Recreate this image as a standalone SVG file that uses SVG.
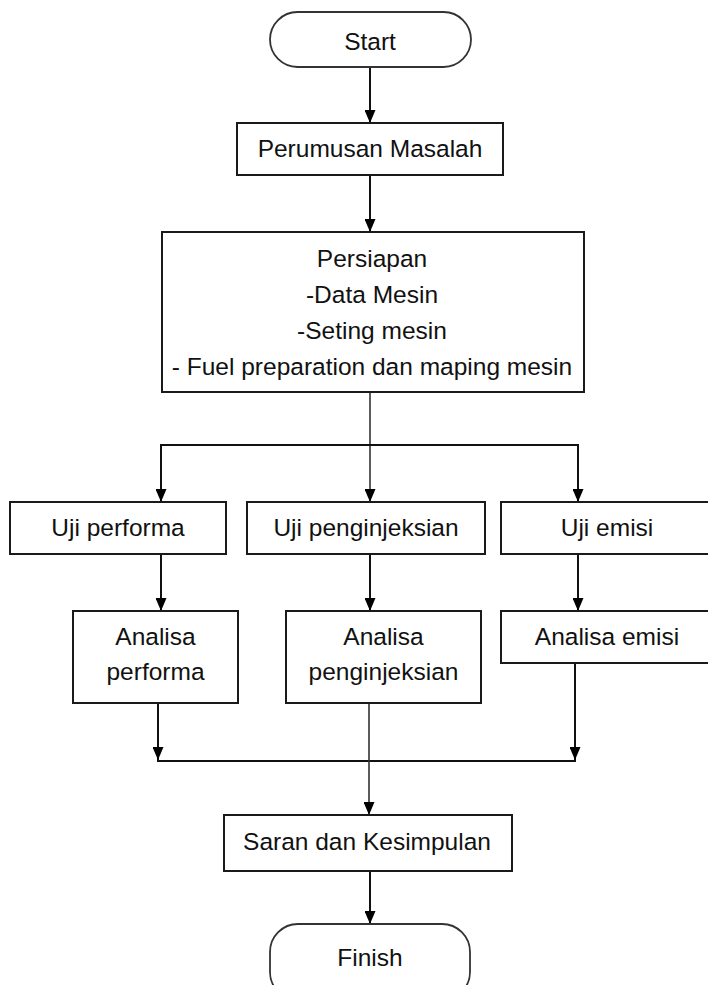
<svg xmlns="http://www.w3.org/2000/svg" width="708" height="985" viewBox="0 0 708 985">
  <style>
    .box { fill: #ffffff; stroke: #1a1a1a; stroke-width: 2; }
    .term { fill: #ffffff; stroke: #333333; stroke-width: 1.8; }
    .lbl { font-family: "Liberation Sans", Arial, sans-serif; font-size: 24.5px; fill: #111111; text-anchor: middle; }
    .edge { fill: none; stroke: #111111; stroke-width: 2; }
    .edge-thin { fill: none; stroke: #333333; stroke-width: 1.6; }
  </style>
  <defs>
    <marker id="arrow" viewBox="0 0 13 11" refX="13" refY="5.5" markerWidth="13" markerHeight="11" markerUnits="userSpaceOnUse" orient="auto">
      <path d="M0,0 L13,5.5 L0,11 z" fill="#000000"/>
    </marker>
  </defs>
  <rect width="708" height="985" fill="#ffffff"/>

  <g id="connectors">
    <line class="edge" x1="370" y1="67" x2="370" y2="123" marker-end="url(#arrow)"/>
    <line class="edge" x1="370" y1="175" x2="370" y2="232" marker-end="url(#arrow)"/>
    <line class="edge-thin" x1="370" y1="392" x2="370" y2="502" marker-end="url(#arrow)"/>
    <polyline class="edge" points="161,502 161,445 578,445 578,502" marker-end="url(#arrow)"/>
    <line class="edge" x1="161" y1="446" x2="161" y2="502" marker-end="url(#arrow)"/>
    <line class="edge" x1="161" y1="554" x2="161" y2="611" marker-end="url(#arrow)"/>
    <line class="edge" x1="370" y1="554" x2="370" y2="611" marker-end="url(#arrow)"/>
    <line class="edge" x1="578" y1="554" x2="578" y2="611" marker-end="url(#arrow)"/>
    <line class="edge" x1="158" y1="703" x2="158" y2="760" marker-end="url(#arrow)"/>
    <line class="edge" x1="575" y1="663" x2="575" y2="760" marker-end="url(#arrow)"/>
    <line class="edge" x1="157" y1="761" x2="576" y2="761"/>
    <line class="edge-thin" x1="369" y1="703" x2="369" y2="815" marker-end="url(#arrow)"/>
    <line class="edge" x1="370" y1="871" x2="370" y2="924" marker-end="url(#arrow)"/>
  </g>

  <g id="start">
    <rect class="term" x="270" y="12" width="201" height="55" rx="27.5" ry="27.5"/>
    <text class="lbl" x="370" y="50">Start</text>
  </g>

  <g id="perumusan">
    <rect class="box" x="237" y="123" width="266" height="52"/>
    <text class="lbl" x="370" y="157">Perumusan Masalah</text>
  </g>

  <g id="persiapan">
    <rect class="box" x="162" y="232" width="422" height="160"/>
    <text class="lbl" x="372" y="267">Persiapan</text>
    <text class="lbl" x="372" y="303">-Data Mesin</text>
    <text class="lbl" x="372" y="339">-Seting mesin</text>
    <text class="lbl" x="372" y="375">- Fuel preparation dan maping mesin</text>
  </g>

  <g id="uji-performa">
    <rect class="box" x="10" y="502" width="216" height="52"/>
    <text class="lbl" x="118" y="536">Uji performa</text>
  </g>

  <g id="uji-penginjeksian">
    <rect class="box" x="247" y="502" width="238" height="52"/>
    <text class="lbl" x="366" y="536">Uji penginjeksian</text>
  </g>

  <g id="uji-emisi">
    <rect class="box" x="501" y="502" width="212" height="52"/>
    <text class="lbl" x="607" y="536">Uji emisi</text>
  </g>

  <g id="analisa-performa">
    <rect class="box" x="73" y="611" width="165" height="92"/>
    <text class="lbl" x="155.5" y="645">Analisa</text>
    <text class="lbl" x="155.5" y="680">performa</text>
  </g>

  <g id="analisa-penginjeksian">
    <rect class="box" x="286" y="611" width="195" height="92"/>
    <text class="lbl" x="383.5" y="645">Analisa</text>
    <text class="lbl" x="383.5" y="680">penginjeksian</text>
  </g>

  <g id="analisa-emisi">
    <rect class="box" x="501" y="611" width="212" height="52"/>
    <text class="lbl" x="607" y="645">Analisa emisi</text>
  </g>

  <g id="saran">
    <rect class="box" x="224" y="815" width="288" height="56"/>
    <text class="lbl" x="367" y="850">Saran dan Kesimpulan</text>
  </g>

  <g id="finish">
    <rect class="term" x="270" y="924" width="200" height="76" rx="28" ry="28"/>
    <text class="lbl" x="370" y="966">Finish</text>
  </g>
</svg>
